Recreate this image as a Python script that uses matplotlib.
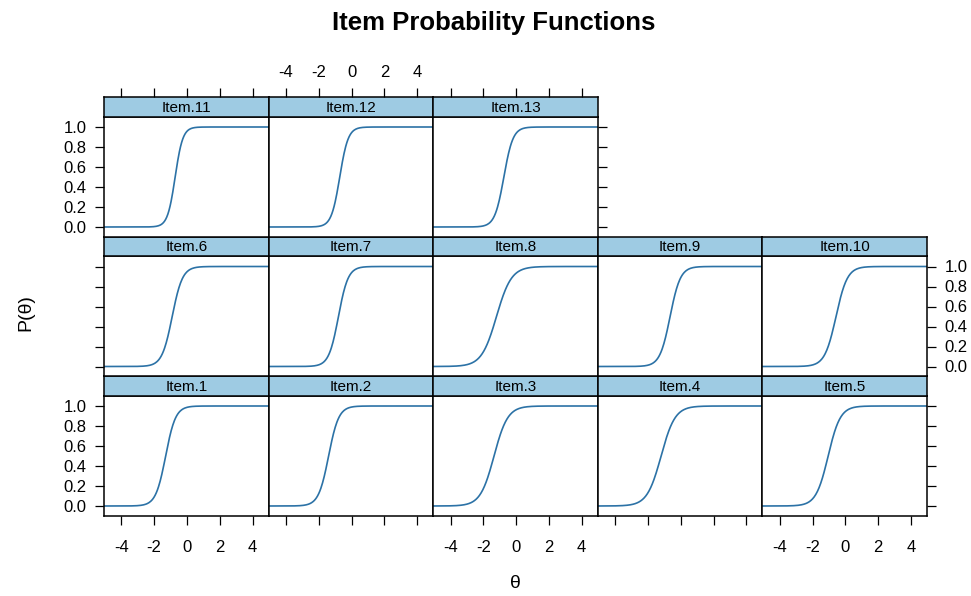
import numpy as np
import matplotlib
matplotlib.use("Agg")
import matplotlib.pyplot as plt

# ---- data (2PL item parameters) ----
items = ["Item.1", "Item.2", "Item.3", "Item.4", "Item.5",
         "Item.6", "Item.7", "Item.8", "Item.9", "Item.10",
         "Item.11", "Item.12", "Item.13"]
discrimination = [3.3, 3.25, 2.4, 2.35, 2.7,
                  3.2, 3.4, 2.2, 3.2, 2.9,
                  4.3, 3.9, 3.6]
difficulty = [-1.3, -1.4, -1.35, -1.2, -1.05,
              -0.9, -0.8, -1.2, -0.65, -0.57,
              -0.72, -0.72, -0.75]
x_ticks = [-4, -2, 0, 2, 4]
y_ticks = [0.0, 0.2, 0.4, 0.6, 0.8, 1.0]
y_ticklabels = ["0.0", "0.2", "0.4", "0.6", "0.8", "1.0"]

plt.rcParams["font.family"] = ["Liberation Sans", "DejaVu Sans"]
plt.rcParams["axes.unicode_minus"] = False

W, H = 971, 596
fig = plt.figure(figsize=(W / 100, H / 100), dpi=100)

def rect(x0, y0, x1, y1):
    return [x0 / W, 1 - y1 / H, (x1 - x0) / W, (y1 - y0) / H]

col_x = [104, 268.6, 433.2, 597.8, 762.4, 927]
row_top = [97, 236.5, 376]
strip_h = 19.5
panel_h = 120
xlim = (-5.06, 4.98)
ylim = (-0.095, 1.105)
line_col = "#2c72a6"
strip_col = "#9ecbe3"
fs = 12
tick_len = 6.5
lw_frame = 1.1

# layout: (row, col) for each item index
layout = {}
for i in range(5):
    layout[i] = (2, i)          # Item.1-5 bottom row
    layout[5 + i] = (1, i)      # Item.6-10 middle row
for i in range(3):
    layout[10 + i] = (0, i)     # Item.11-13 top row

theta = np.linspace(xlim[0], xlim[1], 300)

for idx, name in enumerate(items):
    r, c = layout[idx]
    x0, x1 = col_x[c], col_x[c + 1]
    st = row_top[r]
    pt = st + strip_h
    pb = pt + panel_h
    ax = fig.add_axes(rect(x0, pt, x1, pb))
    sax = fig.add_axes(rect(x0, st, x1, pt))

    a = discrimination[idx]
    b = difficulty[idx]
    p = 1.0 / (1.0 + np.exp(-a * (theta - b)))
    ax.plot(theta, p, color=line_col, lw=1.2)
    ax.set_xlim(*xlim)
    ax.set_ylim(*ylim)
    for sp in ax.spines.values():
        sp.set_linewidth(lw_frame)

    # strip
    sax.set_facecolor(strip_col)
    sax.set_xlim(*xlim)
    sax.set_ylim(0, 1)
    sax.set_yticks([])
    for sp in sax.spines.values():
        sp.set_linewidth(lw_frame)
    sax.text(0.5, 0.45, name, transform=sax.transAxes, ha="center",
             va="center", fontsize=11)

    # x ticks: bottom row gets bottom ticks; labels at cols 0,2,4
    ax.set_xticks(x_ticks)
    ax.tick_params(axis="x", direction="out", length=tick_len, width=0.9,
                   bottom=(r == 2), labelbottom=(r == 2 and c % 2 == 0),
                   top=False, labeltop=False, labelsize=fs, pad=11)
    # top ticks on strips of the top row
    sax.set_xticks(x_ticks)
    sax.tick_params(axis="x", direction="out", length=tick_len, width=0.9,
                    bottom=False, labelbottom=False,
                    top=(r == 0), labeltop=(r == 0 and c % 2 == 1),
                    labelsize=fs, pad=6)

    # y ticks
    ax.set_yticks(y_ticks)
    ax.set_yticklabels(y_ticklabels)
    left_t = (c == 0)
    right_t = (r == 1 and c == 4) or (r == 2 and c == 4) or (r == 0 and c == 2)
    ax.tick_params(axis="y", direction="out", length=tick_len, width=0.9,
                   left=left_t, labelleft=(c == 0 and r != 1),
                   right=right_t, labelright=(r == 1 and c == 4),
                   labelsize=fs, pad=6)

fig.text(494 / W, 1 - 23 / H, "Item Probability Functions", ha="center",
         va="center", fontsize=18.5, fontweight="bold")
fig.text(26 / W, 1 - 313 / H, "P(\u03b8)", ha="center", va="center",
         rotation=90, fontsize=14)
fig.text(515 / W, 1 - 584 / H, "\u03b8", ha="center", va="center",
         fontsize=14)

fig.savefig("out.png", dpi=100)
